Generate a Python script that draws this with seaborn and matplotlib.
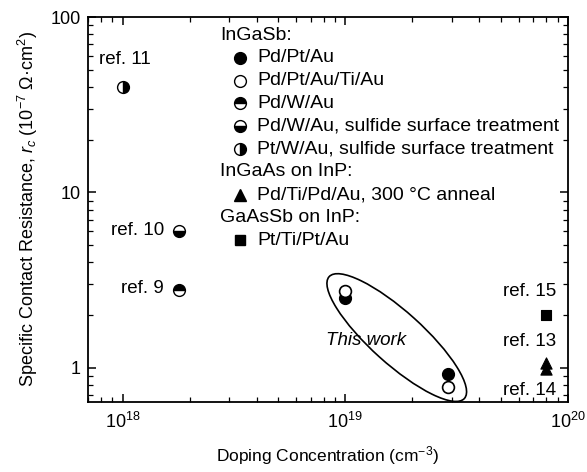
import numpy as np
import pandas as pd
import matplotlib
matplotlib.use("Agg")
import matplotlib.pyplot as plt
import matplotlib.ticker as mticker
from matplotlib.patches import Ellipse
from matplotlib.transforms import IdentityTransform
import seaborn as sns

# ---------------- data ----------------
pdptau_x = [1.0e19, 2.9e19]          # InGaSb Pd/Pt/Au (this work)
pdptau_y = [2.5, 0.92]
pdptautiau_x = [1.0e19, 2.9e19]      # InGaSb Pd/Pt/Au/Ti/Au (this work)
pdptautiau_y = [2.75, 0.78]
pdwau_x = [1.8e18]                   # Pd/W/Au (ref. 9)
pdwau_y = [2.8]
pdwau_s_x = [1.8e18]                 # Pd/W/Au sulfide (ref. 10)
pdwau_s_y = [6.0]
ptwau_s_x = [1.0e18]                 # Pt/W/Au sulfide (ref. 11)
ptwau_s_y = [40.0]
ingaas_x = [8.0e19, 8.0e19]          # InGaAs on InP (ref. 13, ref. 14)
ingaas_y = [1.07, 0.99]
gaassb_x = [8.0e19]                  # GaAsSb on InP (ref. 15)
gaassb_y = [2.0]

xlim = (7.0e17, 1.0e20)
ylim = (0.64, 100)

sns.set_theme(style="ticks")
plt.rcParams["font.family"] = ["Liberation Sans", "DejaVu Sans"]
plt.rcParams["mathtext.fontset"] = "custom"
plt.rcParams["mathtext.rm"] = "Liberation Sans"
plt.rcParams["mathtext.it"] = "Liberation Sans:italic"
plt.rcParams["mathtext.default"] = "regular"
for k in ["text.color", "axes.labelcolor", "xtick.color", "ytick.color", "axes.edgecolor"]:
    plt.rcParams[k] = "black"

fig = plt.figure(figsize=(5.87, 4.72), dpi=100)
ax = fig.add_axes([88/587, 1-402/472, 480/587, 385/472])
ax.set_xscale("log")
ax.set_yscale("log")
ax.set_xlim(*xlim)
ax.set_ylim(*ylim)

ms = 8.5
s = ms**2

# full / open markers via seaborn
sns.scatterplot(x=pdptau_x, y=pdptau_y, marker="o", s=s, color="black",
                edgecolor="black", linewidth=1.0, ax=ax, zorder=3, legend=False)
sns.scatterplot(x=pdptautiau_x, y=pdptautiau_y, marker="o", s=s, color="white",
                edgecolor="black", linewidth=1.2, ax=ax, zorder=4, legend=False)
sns.scatterplot(x=ingaas_x, y=ingaas_y, marker="^", s=s*0.9, color="black",
                edgecolor="black", linewidth=0.8, ax=ax, zorder=3, legend=False)
sns.scatterplot(x=gaassb_x, y=gaassb_y, marker="s", s=s*0.8, color="black",
                edgecolor="black", linewidth=0.8, ax=ax, zorder=3, legend=False)

# half-filled markers
half_kw = dict(linestyle="none", marker="o", markersize=ms, markerfacecolor="black",
               markerfacecoloralt="white", markeredgecolor="black", markeredgewidth=1.0, zorder=3)
ax.plot(pdwau_x, pdwau_y, fillstyle="top", **half_kw)
ax.plot(pdwau_s_x, pdwau_s_y, fillstyle="bottom", **half_kw)
ax.plot(ptwau_s_x, ptwau_s_y, fillstyle="right", **half_kw)

# axes styling
for sp in ax.spines.values():
    sp.set_linewidth(1.3)
    sp.set_color("black")
ax.tick_params(which="both", direction="in", top=True, right=True, colors="black",
               labelsize=13)
ax.tick_params(which="major", length=6, width=1.1, pad=5)
ax.tick_params(which="minor", length=3.5, width=0.9)
ax.xaxis.set_major_locator(mticker.LogLocator(base=10, numticks=10))
ax.xaxis.set_minor_locator(mticker.LogLocator(base=10, subs=np.arange(2, 10), numticks=20))
ax.yaxis.set_major_locator(mticker.LogLocator(base=10, numticks=10))
ax.yaxis.set_minor_locator(mticker.LogLocator(base=10, subs=np.arange(2, 10), numticks=20))
ax.yaxis.set_major_formatter(mticker.FuncFormatter(lambda v, _: f"{v:g}"))
ax.yaxis.set_minor_formatter(mticker.NullFormatter())
ax.xaxis.set_minor_formatter(mticker.NullFormatter())
ax.tick_params(axis="x", which="major", pad=7)
ax.grid(False)

ax.set_xlabel("Doping Concentration (cm$^{-3}$)", fontsize=12.5, labelpad=9)
ax.set_ylabel("Specific Contact Resistance, $\\mathit{r_c}$ (10$^{-7}$ Ω·cm$^2$)",
              fontsize=13, labelpad=8)

# reference annotations (offset in points from the marks)
fs = 13.5
ax.annotate("ref. 11", (ptwau_s_x[0], ptwau_s_y[0]), xytext=(2, 20), textcoords="offset points",
            ha="center", va="center", fontsize=fs)
ax.annotate("ref. 10", (pdwau_s_x[0], pdwau_s_y[0]), xytext=(-11, 1), textcoords="offset points",
            ha="right", va="center", fontsize=fs)
ax.annotate("ref. 9", (pdwau_x[0], pdwau_y[0]), xytext=(-11, 1), textcoords="offset points",
            ha="right", va="center", fontsize=fs)
ax.annotate("ref. 15", (gaassb_x[0], gaassb_y[0]), xytext=(7, 17), textcoords="offset points",
            ha="right", va="center", fontsize=fs)
ax.annotate("ref. 13", (ingaas_x[0], ingaas_y[0]), xytext=(7, 15), textcoords="offset points",
            ha="right", va="center", fontsize=fs)
ax.annotate("ref. 14", (ingaas_x[1], ingaas_y[1]), xytext=(7, -16), textcoords="offset points",
            ha="right", va="center", fontsize=fs)

# "This work" ellipse around this-work points (built in display space around their log-centre)
fig.canvas.draw()
lx = np.log10(pdptau_x + pdptautiau_x)
ly = np.log10(pdptau_y + pdptautiau_y)
cx, cy = 10**lx.mean(), 10**ly.mean()
cdisp = ax.transData.transform((cx, cy))
ell = Ellipse(cdisp, width=182, height=52, angle=-42, transform=IdentityTransform(),
              fill=False, edgecolor="black", linewidth=1.2, zorder=2)
fig.add_artist(ell)
ax.text(1.24e19, 1.43, "This work", style="italic", fontsize=fs, ha="center", va="center",
        zorder=5, bbox=dict(boxstyle="square,pad=0.1", facecolor="white", edgecolor="none"))

# legend block (axes fraction)
hx, mx, tx = 0.275, 0.317, 0.352
lfs = 14
rows = [
    ("h", "InGaSb:", None),
    ("m", "Pd/Pt/Au", dict(marker="o", fillstyle="full", markerfacecolor="black")),
    ("m", "Pd/Pt/Au/Ti/Au", dict(marker="o", fillstyle="full", markerfacecolor="white")),
    ("m", "Pd/W/Au", dict(marker="o", fillstyle="top", markerfacecolor="black", markerfacecoloralt="white")),
    ("m", "Pd/W/Au, sulfide surface treatment", dict(marker="o", fillstyle="bottom", markerfacecolor="black", markerfacecoloralt="white")),
    ("m", "Pt/W/Au, sulfide surface treatment", dict(marker="o", fillstyle="right", markerfacecolor="black", markerfacecoloralt="white")),
    ("h", "InGaAs on InP:", None),
    ("m", "Pd/Ti/Pd/Au, 300 °C anneal", dict(marker="^", fillstyle="full", markerfacecolor="black")),
    ("h", "GaAsSb on InP:", None),
    ("m", "Pt/Ti/Pt/Au", dict(marker="s", fillstyle="full", markerfacecolor="black")),
]
y0, dy = 0.953, 0.0592
for i, (kind, label, mk) in enumerate(rows):
    yy = y0 - i * dy
    if kind == "h":
        ax.text(hx, yy, label, transform=ax.transAxes, fontsize=lfs, ha="left", va="center")
    else:
        msz = ms * (0.85 if mk["marker"] == "s" else 1.0)
        ax.plot([mx], [yy], transform=ax.transAxes, linestyle="none", markersize=msz,
                markeredgecolor="black", markeredgewidth=1.0, clip_on=False, **mk)
        ax.text(tx, yy, label, transform=ax.transAxes, fontsize=lfs, ha="left", va="center")

fig.savefig("out.png", dpi=100)
